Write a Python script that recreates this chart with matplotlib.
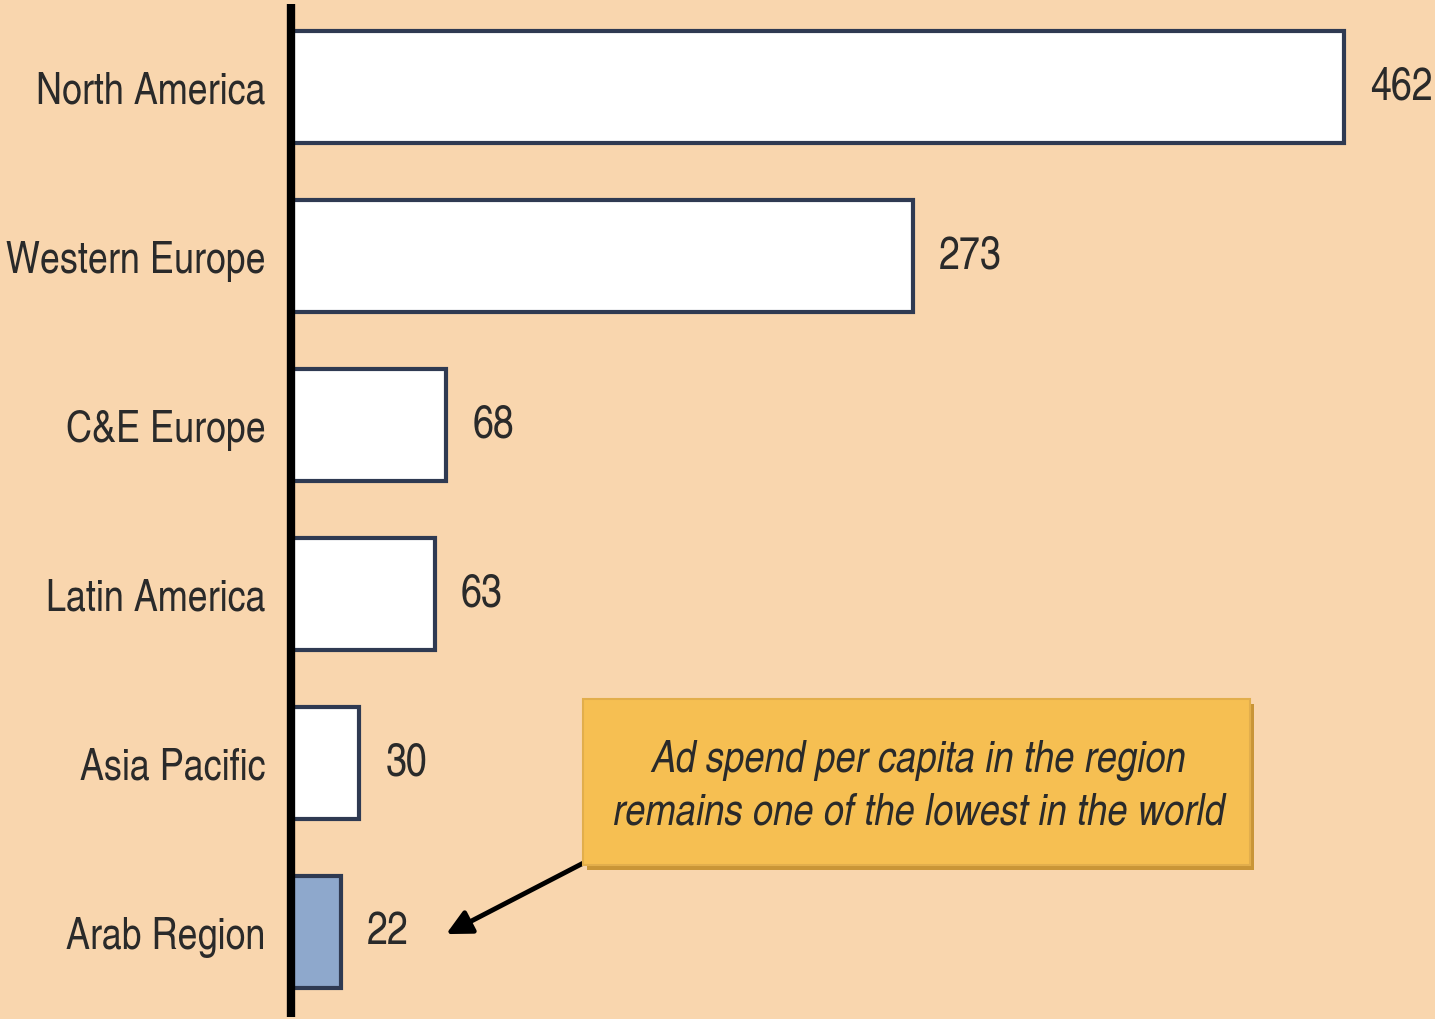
import matplotlib
matplotlib.use("Agg")
import matplotlib.pyplot as plt
from matplotlib.patches import Rectangle

# Datos del gráfico (gasto publicitario per cápita)
regiones = ["North America", "Western Europe", "C&E Europe",
            "Latin America", "Asia Pacific", "Arab Region"]
valores = [462, 273, 68, 63, 30, 22]
destacado = "Arab Region"
nota = "Ad spend per capita in the region\nremains one of the lowest in the world"

fondo = "#F9D6AE"
borde = "#2F3A52"
fuente = ["TeX Gyre Heros Cn", "Liberation Sans", "DejaVu Sans"]

fig = plt.figure(figsize=(14.35, 10.2), dpi=100, facecolor=fondo)
ax = fig.add_axes([291 / 1435, 2 / 1020, 1 - 291 / 1435, 1013 / 1020])
ax.set_facecolor(fondo)

colores = ["#8EA8CC" if r == destacado else "white" for r in regiones]
y = range(len(regiones))
ax.barh(y, valores, height=0.665, color=colores, edgecolor=borde, linewidth=3.0, zorder=2)

ax.set_xlim(0, 502)
ax.set_ylim(5.503, -0.491)

for s in ["top", "right", "bottom"]:
    ax.spines[s].set_visible(False)
ax.spines["left"].set_linewidth(6)
ax.spines["left"].set_color("black")
ax.spines["left"].set_zorder(5)
ax.spines["left"].set_capstyle("butt")

ax.set_xticks([])
ax.set_yticks(list(y))
ax.set_yticklabels(regiones, family=fuente, fontsize=31.5, color="#2a2a2a")
ax.tick_params(axis="y", length=0, pad=18.5)

# Etiquetas de valor
for i, v in enumerate(valores):
    ax.text(v + 11.5, i, str(v), va="center", ha="left", family=fuente,
            fontsize=33, color="#2a2a2a")

# Caja de nota con sombra
bx, by, bw, bh = 583 / 1435, 1 - 866 / 1020, 667 / 1435, 166 / 1020
fig.patches.append(Rectangle((bx + 4 / 1435, by - 5 / 1020), bw, bh, transform=fig.transFigure,
                             facecolor="#C99537", edgecolor="none", zorder=3))
fig.patches.append(Rectangle((bx, by), bw, bh, transform=fig.transFigure,
                             facecolor="#F6BF52", edgecolor="#E2AE4C", linewidth=1.5, zorder=4))
fig.text(bx + bw / 2 + 2 / 1435, by + bh / 2 - 4 / 1020, nota, ha="center", va="center",
         family=fuente, style="italic", fontsize=32, color="#2a2a2a",
         linespacing=1.35, zorder=6)

# Flecha hacia la región destacada
k = regiones.index(destacado)
ax.annotate("", xy=(valores[k] + 45, k + 0.02), xytext=(valores[k] + 108, k - 0.42),
            arrowprops=dict(arrowstyle="-|>,head_length=1.5,head_width=0.75",
                            color="black", lw=3.5), zorder=7)

fig.savefig("out.png", dpi=100, facecolor=fondo)
